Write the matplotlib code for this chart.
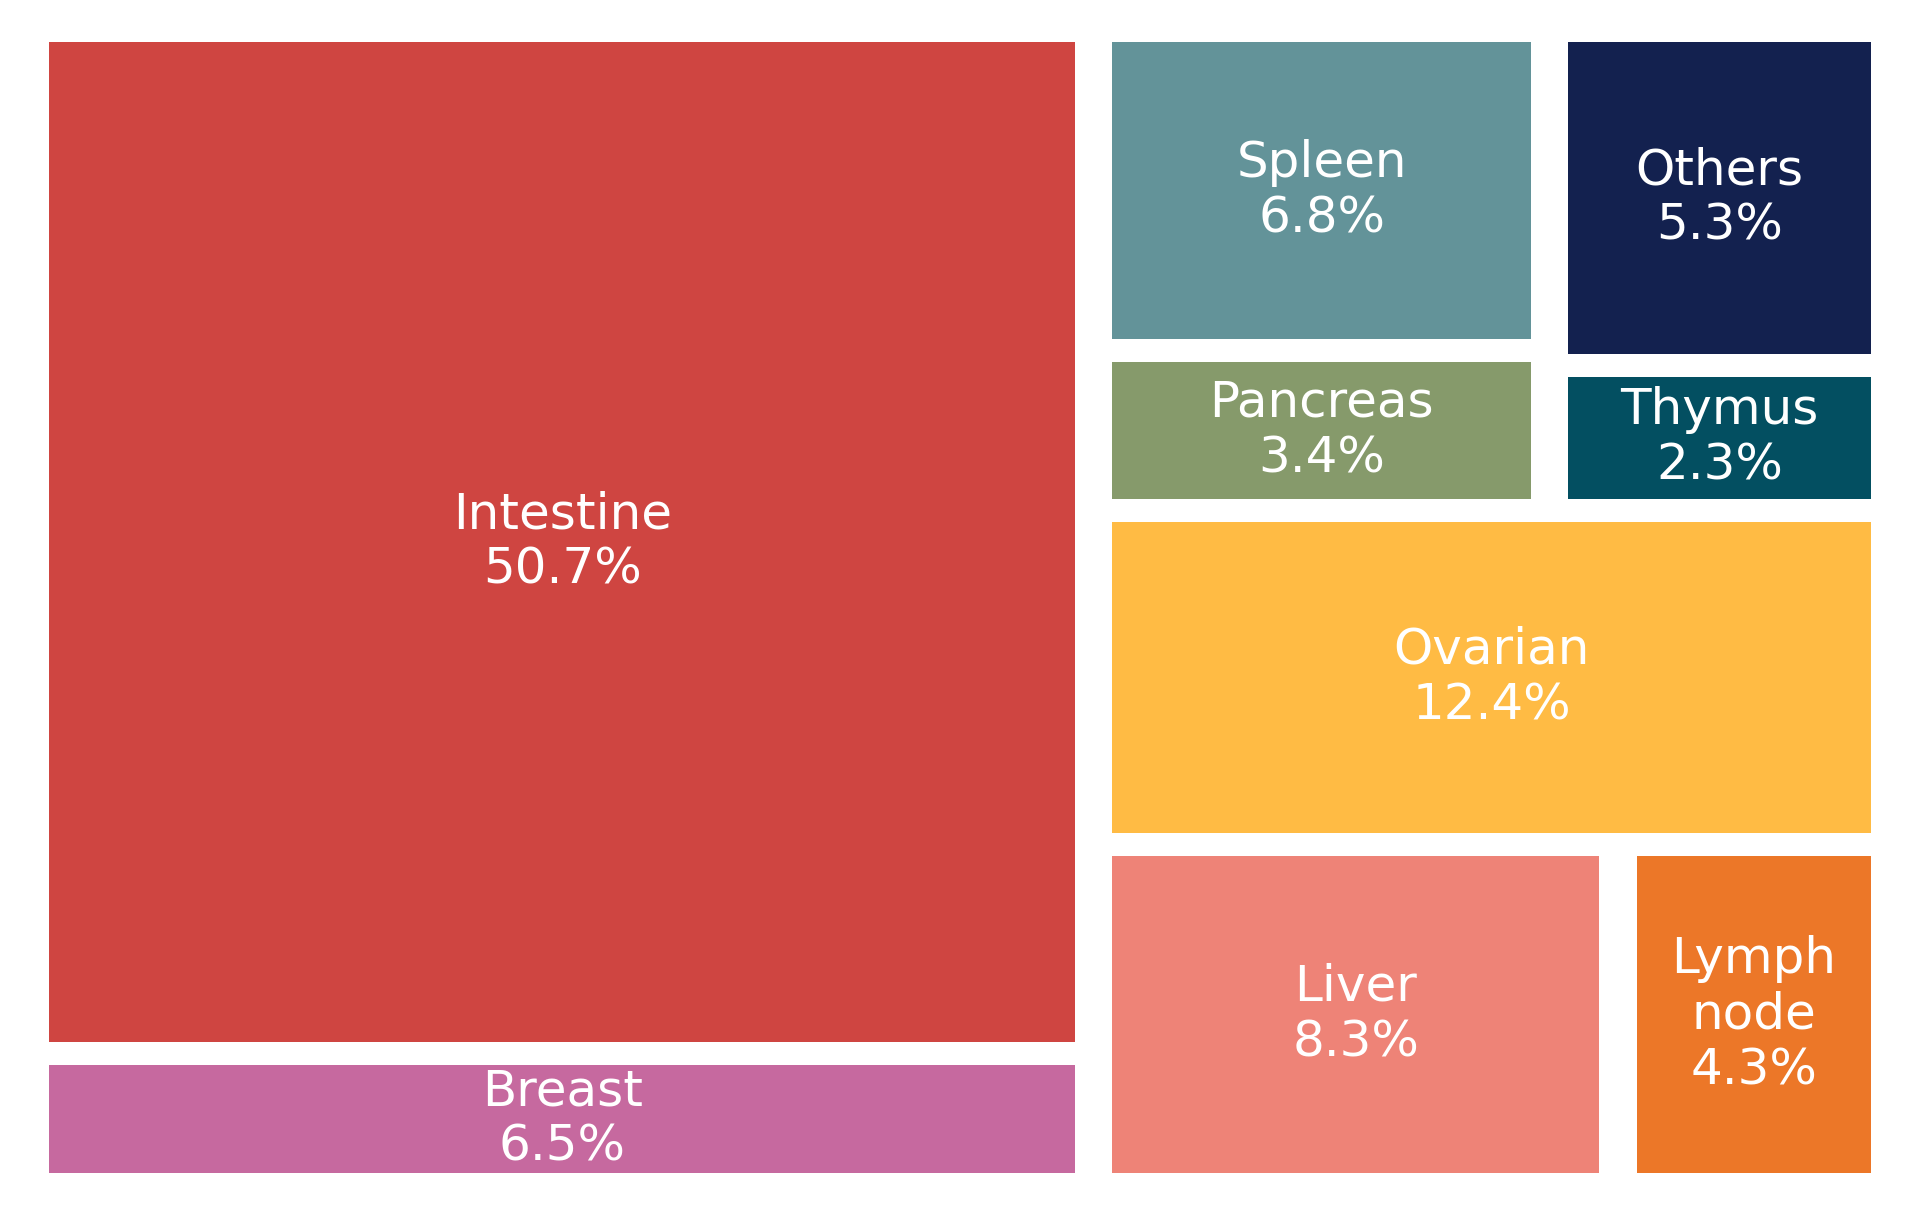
import matplotlib.pyplot as plt
from matplotlib.patches import Rectangle

labels = ['Intestine', 'Breast', 'Spleen', 'Pancreas', 'Others', 'Thymus',
          'Ovarian', 'Liver', 'Lymph\nnode']
shares = [50.7, 6.5, 6.8, 3.4, 5.3, 2.3, 12.4, 8.3, 4.3]
colors = ['#cf4541', '#c6699f', '#639399', '#869a6b', '#13214f', '#034f61',
          '#ffbb44', '#ee8377', '#ec7728']

# how the tiles nest: 'h' = side by side, 'v' = stacked top to bottom
tree = ('h', [('v', [0, 1]),
              ('v', [('h', [('v', [2, 3]), ('v', [4, 5])]), 6, ('h', [7, 8])])])


def total(node):
    if isinstance(node, int):
        return shares[node]
    return sum(total(c) for c in node[1])


def layout(node, x, y, w, h, out):
    if isinstance(node, int):
        out[node] = (x, y, w, h)
        return
    kind, kids = node
    t = total(node)
    for c in kids:
        f = total(c) / t
        if kind == 'h':
            layout(c, x, y, w * f, h, out)
            x += w * f
        else:
            layout(c, x, y, w, h * f, out)
            y += h * f


rects = {}
layout(tree, 0, 0, 100, 100, rects)

fig = plt.figure(figsize=(19.21, 12.16), dpi=100)
ax = fig.add_axes([30.4 / 1921, 31.4 / 1216, 1859.2 / 1921, 1154.1 / 1216])

pad = 1
for i in range(len(labels)):
    x, y, w, h = rects[i]
    ax.add_patch(Rectangle((x + pad, y + pad), w - 2 * pad, h - 2 * pad,
                           facecolor=colors[i], edgecolor='none'))
    ax.text(x + w / 2, y + h / 2, f'{labels[i]}\n{shares[i]}%',
            ha='center', va='center', color='white', fontsize=36)

ax.set_xlim(0, 100)
ax.set_ylim(100, 0)
ax.axis('off')

plt.savefig('out.png', dpi=100)
